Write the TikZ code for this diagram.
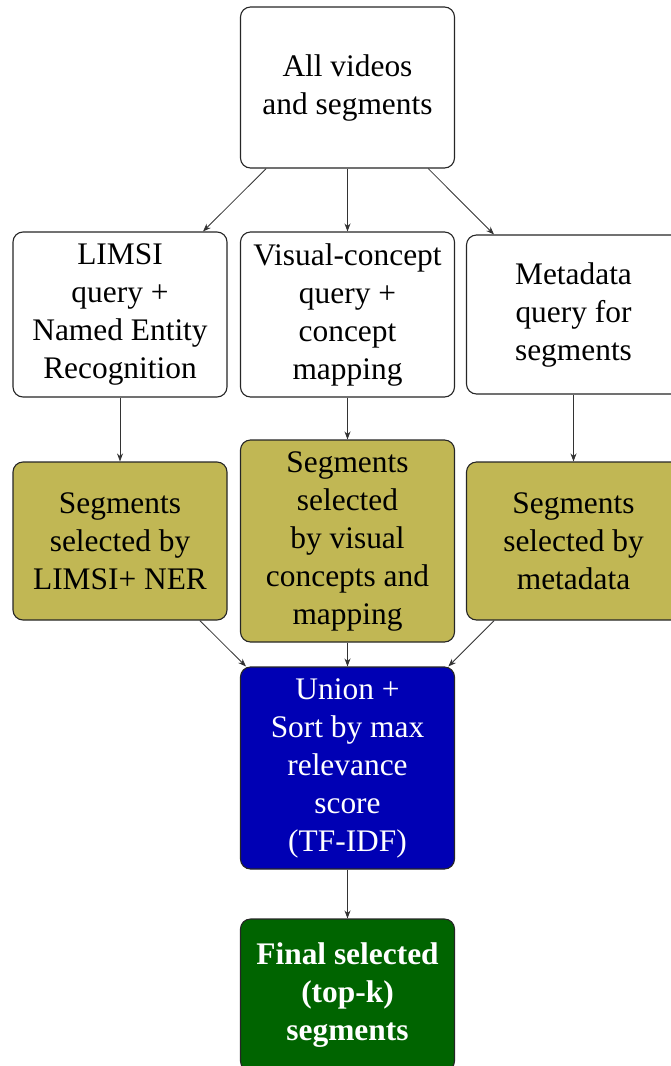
\documentclass[tikz,border=0pt]{standalone}
\usepackage{fontspec}
\setmainfont{LiberationSerif}[Extension=.ttf, UprightFont=*-Regular, BoldFont=*-Bold]
\usetikzlibrary{arrows.meta}
\definecolor{segolive}{RGB}{193,183,84}
\definecolor{unionblue}{RGB}{0,0,180}
\definecolor{finalgreen}{RGB}{0,100,0}
\tikzset{
  stage/.style={draw=black!85, line width=1.1pt, rounded corners=10pt,
    minimum width=214pt, align=center, inner sep=2pt,
    font=\fontsize{31.4}{38}\selectfont},
  plain/.style={stage, fill=white, minimum height=161pt},
  seg/.style={stage, fill=segolive},
  union/.style={stage, fill=unionblue, text=white, minimum height=202pt},
  final/.style={stage, fill=finalgreen, text=white, minimum height=152pt,
    font=\fontsize{31.4}{38}\selectfont\bfseries},
  flow/.style={draw=black!80, line width=0.8pt,
    -{Stealth[length=8pt,width=6pt]}}
}
\begin{document}
\begin{tikzpicture}[x=1pt,y=-1pt]
  \useasboundingbox (0,0) rectangle (671,1066);
  \clip (0,0) rectangle (671,1066);

  % source
  \node[plain] (all) at (347.5,87.5) {All videos\\and segments};

  % three query paths
  \node[plain, minimum height=165pt] (limsi) at (120,314.5)
    {LIMSI\\query +\\Named Entity\\Recognition};
  \node[plain, minimum height=165pt] (visual) at (347.5,314.5)
    {Visual-concept\\query +\\concept\\mapping};
  \node[plain, minimum height=159pt] (meta) at (573.5,314.5)
    {Metadata\\query for\\segments};

  % selected segments
  \node[seg, minimum height=158pt] (segL) at (120,541)
    {Segments\\selected by\\LIMSI+ NER};
  \node[seg, minimum height=202pt] (segV) at (347.5,541)
    {Segments\\selected\\by visual\\concepts and\\mapping};
  \node[seg, minimum height=158pt] (segM) at (573.5,541)
    {Segments\\selected by\\metadata};

  % merge and rank
  \node[union] (union) at (347.5,768)
    {Union +\\Sort by max\\relevance\\score\\(TF-IDF)};

  % result
  \node[final] (final) at (347.5,995)
    {Final selected\\(top-k)\\segments};

  % connectors
  \draw[flow] (all) -- (limsi);
  \draw[flow] (all) -- (visual);
  \draw[flow] (all) -- (meta);
  \draw[flow] (limsi) -- (segL);
  \draw[flow] (visual) -- (segV);
  \draw[flow] (meta) -- (segM);
  \draw[flow] (segL) -- (union);
  \draw[flow] (segV) -- (union);
  \draw[flow] (segM) -- (union);
  \draw[flow] (union) -- (final);
\end{tikzpicture}
\end{document}
